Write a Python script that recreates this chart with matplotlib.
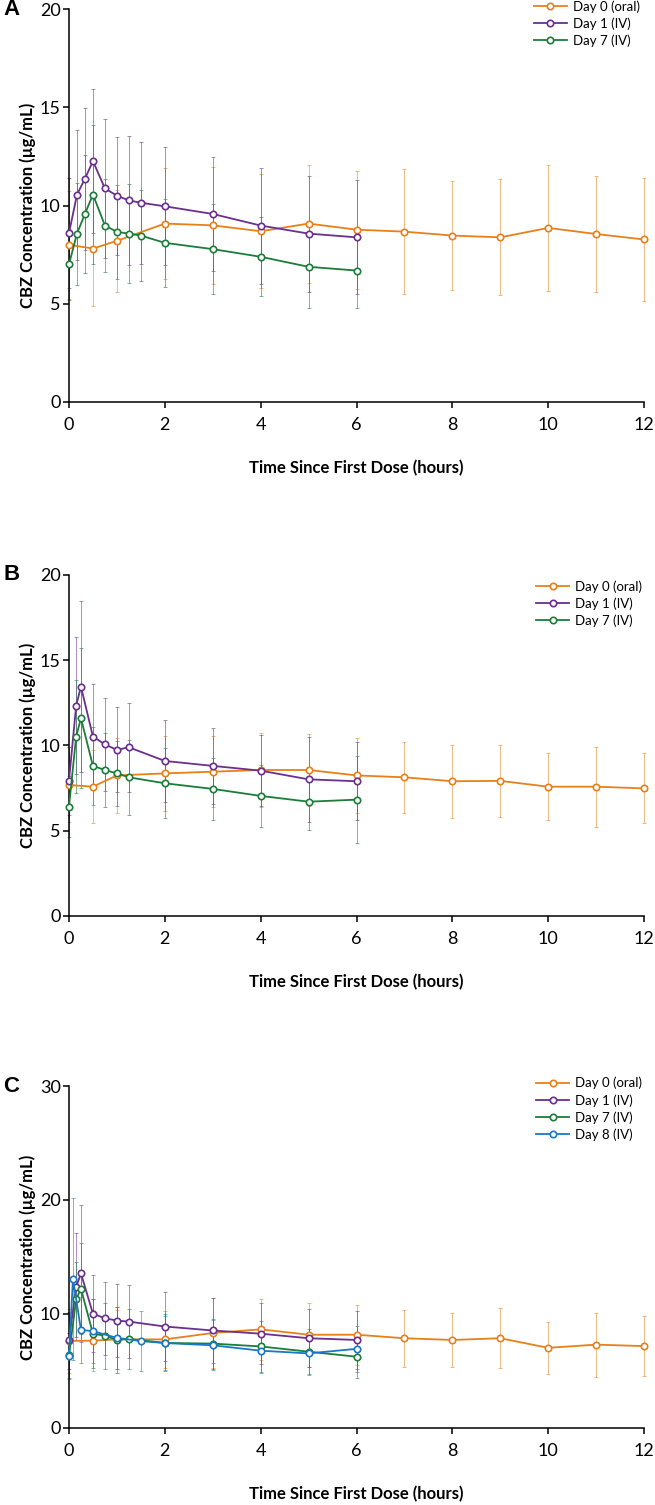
import matplotlib
matplotlib.use("Agg")
from matplotlib import pyplot as plt

plt.rcParams['font.family'] = ['Lato', 'DejaVu Sans']

# colours
c_oral = '#E8801A'
c_d1 = '#6B2F8E'
c_d7 = '#1B7D3A'
c_d8 = '#1A78C2'

# ---- panel A ----
t_a_iv = [0, 0.167, 0.333, 0.5, 0.75, 1, 1.25, 1.5, 2, 3, 4, 5, 6]
a_d1 = [8.59, 10.55, 11.36, 12.26, 10.87, 10.50, 10.26, 10.14, 9.96, 9.57, 8.98, 8.57, 8.38]
a_d1_sd = [2.8, 3.3, 3.6, 3.65, 3.55, 3.0, 3.3, 3.1, 3.0, 2.9, 2.95, 2.95, 2.9]
a_d7 = [7.0, 8.57, 9.57, 10.56, 8.98, 8.66, 8.57, 8.47, 8.1, 7.78, 7.39, 6.88, 6.69]
a_d7_sd = [1.8, 2.6, 3.0, 3.55, 2.35, 2.4, 2.5, 2.3, 2.25, 2.3, 2.0, 2.1, 1.9]
t_oral = [0, 0.5, 1, 2, 3, 4, 5, 6, 7, 8, 9, 10, 11, 12]
a_d0 = [8.0, 7.81, 8.2, 9.08, 8.99, 8.69, 9.08, 8.77, 8.67, 8.47, 8.38, 8.86, 8.55, 8.27]
a_d0_sd = [2.75, 2.9, 2.6, 2.83, 2.97, 2.9, 3.0, 3.0, 3.17, 2.77, 2.95, 3.2, 2.97, 3.15]

# ---- panel B ----
t_b_iv = [0, 0.15, 0.25, 0.5, 0.75, 1, 1.25, 2, 3, 4, 5, 6]
b_d1 = [7.92, 12.33, 13.45, 10.52, 10.06, 9.74, 9.89, 9.09, 8.8, 8.52, 8.01, 7.9]
b_d1_sd = [2.0, 4.0, 5.0, 3.1, 2.75, 2.5, 2.6, 2.4, 2.25, 2.1, 2.5, 2.3]
b_d7 = [6.41, 10.52, 11.59, 8.8, 8.56, 8.36, 8.13, 7.78, 7.45, 7.04, 6.7, 6.82]
b_d7_sd = [1.8, 3.3, 4.1, 2.3, 2.15, 1.9, 2.2, 2.06, 1.8, 1.8, 1.66, 2.55]
b_d0 = [7.68, 7.58, 8.24, 8.36, 8.46, 8.56, 8.56, 8.24, 8.13, 7.9, 7.92, 7.58, 7.58, 7.48]
b_d0_sd = [2.2, 2.15, 2.2, 2.2, 2.1, 2.15, 2.1, 2.2, 2.1, 2.13, 2.13, 1.95, 2.35, 2.05]

# ---- panel C ----
t_c_iv = [0, 0.15, 0.25, 0.5, 0.75, 1, 1.25, 2, 3, 4, 5, 6]
c_d1v = [7.7, 12.38, 13.56, 10.03, 9.62, 9.42, 9.33, 8.9, 8.55, 8.27, 7.87, 7.72]
c_d1_sd = [2.5, 4.7, 6.0, 3.4, 3.2, 3.2, 3.2, 3.0, 2.85, 2.65, 2.55, 2.55]
c_d7v = [6.37, 11.29, 12.22, 8.27, 8.09, 7.72, 7.81, 7.46, 7.4, 7.15, 6.69, 6.25]
c_d7_sd = [2.0, 3.3, 4.0, 3.0, 2.9, 2.9, 2.6, 2.5, 2.2, 2.2, 2.0, 1.9]
t_c_d8 = [0, 0.083, 0.25, 0.5, 1, 1.5, 2, 3, 4, 5, 6]
c_d8v = [6.3, 13.1, 8.6, 8.49, 7.9, 7.62, 7.45, 7.25, 6.78, 6.54, 6.94]
c_d8_sd = [2.0, 7.1, 2.9, 2.8, 2.7, 2.6, 2.4, 2.2, 2.0, 1.9, 2.0]
c_d0v = [7.63, 7.66, 7.77, 7.77, 8.33, 8.65, 8.18, 8.18, 7.87, 7.72, 7.87, 7.03, 7.31, 7.18]
c_d0_sd = [2.8, 2.7, 2.6, 2.5, 3.1, 2.65, 2.8, 2.65, 2.5, 2.4, 2.65, 2.3, 2.8, 2.6]

panels = [
    ('A', [0.1053, 0.7329, 0.878, 0.2611], 20, [0, 5, 10, 15, 20],
     [('Day 0 (oral)', t_oral, a_d0, a_d0_sd, c_oral),
      ('Day 1 (IV)', t_a_iv, a_d1, a_d1_sd, c_d1),
      ('Day 7 (IV)', t_a_iv, a_d7, a_d7_sd, c_d7)], (0.815, 1.0)),
    ('B', [0.1053, 0.3914, 0.878, 0.2266], 20, [0, 5, 10, 15, 20],
     [('Day 0 (oral)', t_oral, b_d0, b_d0_sd, c_oral),
      ('Day 1 (IV)', t_b_iv, b_d1, b_d1_sd, c_d1),
      ('Day 7 (IV)', t_b_iv, b_d7, b_d7_sd, c_d7)], (0.819, 0.6145)),
    ('C', [0.1053, 0.0512, 0.878, 0.2272], 30, [0, 10, 20, 30],
     [('Day 0 (oral)', t_oral, c_d0v, c_d0_sd, c_oral),
      ('Day 1 (IV)', t_c_iv, c_d1v, c_d1_sd, c_d1),
      ('Day 7 (IV)', t_c_iv, c_d7v, c_d7_sd, c_d7),
      ('Day 8 (IV)', t_c_d8, c_d8v, c_d8_sd, c_d8)], (0.819, 0.2845)),
]

fig = plt.figure(figsize=(6.55, 15.05), dpi=100)

for letter, rect, ymax, yticks, series, leg_pos in panels:
    ax = fig.add_axes(rect)
    for label, t, y, sd, col in series:
        ax.errorbar(t, y, yerr=sd, fmt='none', ecolor=col, elinewidth=0.7,
                    capsize=1.6, capthick=0.7, alpha=0.55, zorder=2, clip_on=False)
    for label, t, y, sd, col in series:
        ax.plot(t, y, '-o', color=col, lw=1.3, ms=4.6, mfc='white', mec=col,
                mew=1.2, label=label, zorder=3, clip_on=False)
    ax.set_xlim(0, 12)
    ax.set_ylim(0, ymax)
    ax.set_xticks(range(0, 13, 2))
    ax.set_yticks(yticks)
    ax.spines['top'].set_visible(False)
    ax.spines['right'].set_visible(False)
    ax.spines['left'].set_linewidth(1.1)
    ax.spines['bottom'].set_linewidth(1.1)
    ax.tick_params(axis='both', labelsize=13, width=1.1, length=4, direction='out')
    ax.tick_params(axis='x', pad=7)
    ax.tick_params(axis='y', pad=2)
    ax.set_xlabel('Time Since First Dose (hours)', fontsize=12, fontweight='bold',
                  labelpad=19)
    ax.set_ylabel('CBZ Concentration (µg/mL)', fontsize=12, fontweight='bold',
                  labelpad=3)
    ax.legend(loc='upper left', bbox_to_anchor=leg_pos, bbox_transform=fig.transFigure,
              frameon=False, fontsize=9.5, handlelength=2.5, handletextpad=0.45,
              labelspacing=0.35, borderpad=0, borderaxespad=0)
    fig.text(0.005, rect[1] + rect[3], letter, fontsize=16, fontweight='bold',
             family='Liberation Sans', ha='left', va='center')

fig.savefig('out.png', dpi=100)
